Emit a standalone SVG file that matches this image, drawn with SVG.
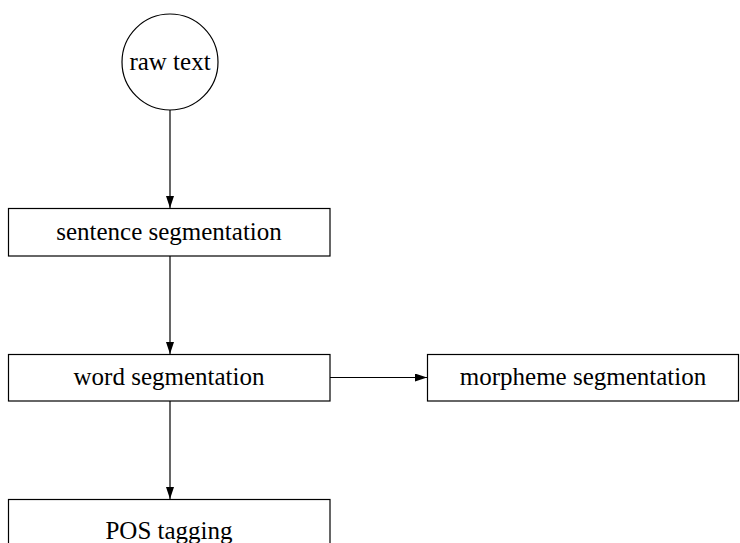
<svg xmlns="http://www.w3.org/2000/svg" width="740" height="543" viewBox="0 0 740 543">
<style>
.n{fill:#fff;stroke:#000;stroke-width:1.2}
.t{font-family:"Liberation Serif","Times New Roman",serif;font-size:25px;fill:#000;text-anchor:middle}
.e{stroke:#000;stroke-width:1.2;fill:none;marker-end:url(#a)}
</style>
<defs>
<marker id="a" viewBox="0 0 12 8" refX="12" refY="4" markerWidth="12" markerHeight="8" markerUnits="userSpaceOnUse" orient="auto">
<path d="M0,0 L12,4 L0,8 Z" fill="#000"/>
</marker>
</defs>
<rect width="740" height="543" fill="#fff"/>
<g id="edges">
<line class="e" x1="170" y1="110" x2="170" y2="208"/>
<line class="e" x1="170" y1="256" x2="170" y2="354"/>
<line class="e" x1="330" y1="377.5" x2="427" y2="377.5"/>
<line class="e" x1="170" y1="401" x2="170" y2="499"/>
</g>
<g id="raw-text">
<circle class="n" cx="170" cy="62" r="48"/>
<text class="t" x="170" y="70">raw text</text>
</g>
<g id="sentence-segmentation">
<rect class="n" x="8.5" y="208.5" width="321.5" height="47.5"/>
<text class="t" x="169" y="240">sentence segmentation</text>
</g>
<g id="word-segmentation">
<rect class="n" x="8.5" y="354.5" width="321.5" height="46.5"/>
<text class="t" x="169" y="385">word segmentation</text>
</g>
<g id="morpheme-segmentation">
<rect class="n" x="427.5" y="354.5" width="311" height="46.5"/>
<text class="t" x="583" y="385">morpheme segmentation</text>
</g>
<g id="pos-tagging">
<rect class="n" x="8.5" y="499.5" width="321.5" height="48"/>
<text class="t" x="169" y="539">POS tagging</text>
</g>
</svg>
